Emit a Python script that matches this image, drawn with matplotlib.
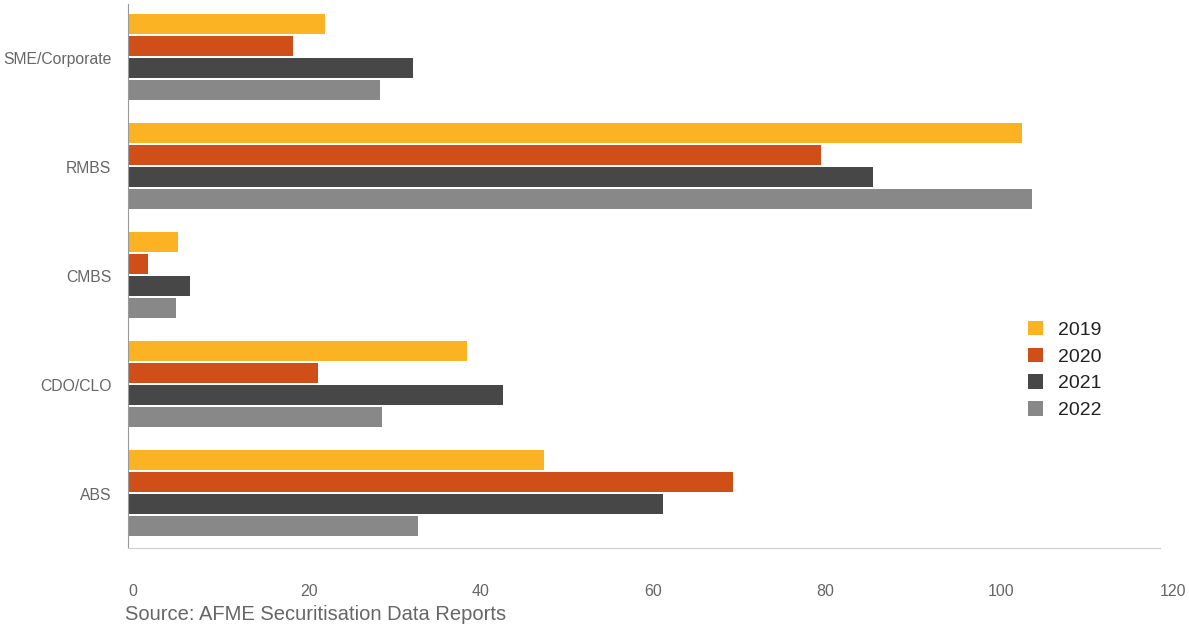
import matplotlib
matplotlib.use("Agg")
import matplotlib.pyplot as plt
import numpy as np

plt.rcParams['font.family'] = ['Liberation Sans', 'DejaVu Sans']

categories = ["ABS", "CDO/CLO", "CMBS", "RMBS", "SME/Corporate"]
years = ["2019", "2020", "2021", "2022"]
v2019 = [48.4, 39.4, 5.8, 104.0, 22.9]
v2020 = [70.3, 22.1, 2.3, 80.6, 19.2]
v2021 = [62.2, 43.6, 7.2, 86.6, 33.1]
v2022 = [33.7, 29.5, 5.6, 105.1, 29.3]
series = [v2019, v2020, v2021, v2022]
colors = ["#FBB324", "#D04F19", "#474747", "#888888"]
xticks = [0, 20, 40, 60, 80, 100, 120]

W, H = 1189, 626
fig = plt.figure(figsize=(W / 100, H / 100), dpi=100)
ax = fig.add_axes([128 / W, (H - 548) / H, (1160 - 128) / W, (548 - 4) / H])

y = np.arange(len(categories))
bh = 20 / 109
step = 22 / 109
for i, (vals, c, lab) in enumerate(zip(series, colors, years)):
    offs = (1.5 - i) * step + 1 / 109
    ax.barh(y + offs, vals, height=bh, color=c, label=lab)

ax.set_xlim(0, 120)
ax.set_ylim(-0.5, len(categories) - 0.5)
ax.set_xticks(xticks)
ax.set_xticklabels([str(t) for t in xticks], ha="left")
ax.set_yticks(y)
ax.set_yticklabels(categories)
ax.tick_params(axis='x', length=0, pad=31, labelsize=11.5, labelcolor="#666666")
ax.tick_params(axis='y', length=0, pad=12, labelsize=11.3, labelcolor="#666666")
for lbl in ax.get_xticklabels():
    lbl.set_va("center")
for s in ["top", "right"]:
    ax.spines[s].set_visible(False)
ax.spines["left"].set_color("#999999")
ax.spines["bottom"].set_color("#cccccc")

leg = ax.legend(loc="center left", bbox_to_anchor=((1010 - 128) / (1160 - 128), (548 - 370) / 544),
                frameon=False, fontsize=14, handlelength=0.78, handleheight=0.78,
                handletextpad=0.78, labelspacing=0.45)
for t in leg.get_texts():
    t.set_color("#222222")

fig.text(125 / W, 1 - 615 / H, "Source: AFME Securitisation Data Reports",
         fontsize=14.5, color="#666666", va="center", ha="left")

fig.savefig("out.png", dpi=100)
